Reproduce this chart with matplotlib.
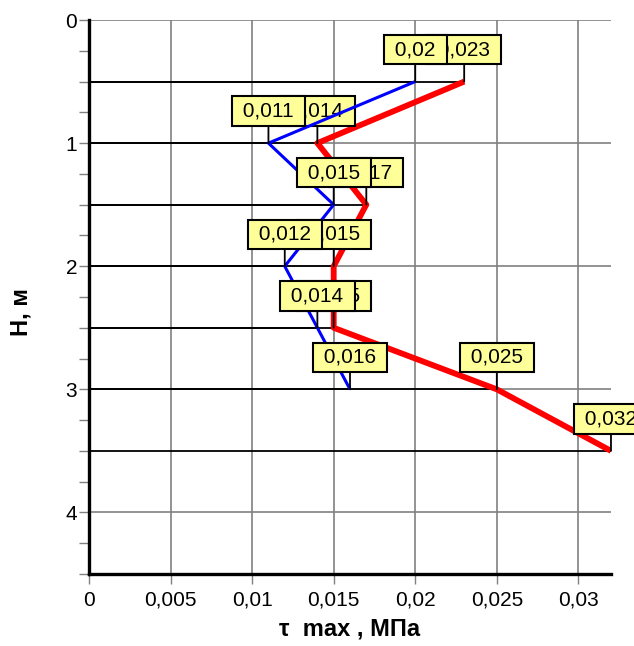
import matplotlib
matplotlib.use('Agg')
from matplotlib import pyplot as plt
from matplotlib.ticker import MultipleLocator, FuncFormatter

# Data.
depth_blue = [0.5, 1.0, 1.5, 2.0, 2.5, 3.0]
tau_blue = [0.02, 0.011, 0.015, 0.012, 0.014, 0.016]
depth_red = [0.5, 1.0, 1.5, 2.0, 2.5, 3.0, 3.5]
tau_red = [0.023, 0.014, 0.017, 0.015, 0.015, 0.025, 0.032]

x_ticks = [0, 0.005, 0.01, 0.015, 0.02, 0.025, 0.03]
y_ticks = [0, 1, 2, 3, 4]

plt.rcParams['font.family'] = ['Liberation Sans', 'DejaVu Sans']


def fmt(v):
    return ('%g' % v).replace('.', ',')


fig = plt.figure(dpi=100, figsize=(6.34, 6.46))
ax = fig.add_axes([0.1404, 0.1115, 0.8233, 0.8575])

ax.set_xlim(0, 0.032)
ax.set_ylim(4.5, 0)

# Grid and frame.
ax.set_xticks(x_ticks)
ax.set_yticks(y_ticks)
ax.yaxis.set_minor_locator(MultipleLocator(0.25))
ax.xaxis.set_major_formatter(FuncFormatter(lambda v, p: fmt(round(v, 4))))
ax.grid(True, color='#808080', lw=1.2, zorder=0)
ax.set_axisbelow(True)
for s in ['top', 'right']:
    ax.spines[s].set_visible(False)
for s in ['left', 'bottom']:
    ax.spines[s].set_linewidth(2.4)
    ax.spines[s].set_zorder(6)
ax.tick_params(axis='both', which='both', length=7, width=1, color='#808080',
               labelsize=15)
ax.tick_params(axis='x', pad=5)
ax.tick_params(axis='y', pad=1.5)


def draw_series(depths, vals, color, lw, z):
    # horizontal drop lines to the axis
    ax.hlines(depths, 0, vals, colors='black', lw=1.3, zorder=2)
    ax.plot(vals, depths, color=color, lw=lw, zorder=z, solid_capstyle='butt')
    for d, v in zip(depths, vals):
        ax.annotate(' ' + fmt(v) + ' ', xy=(v, d), xytext=(0, 23),
                    textcoords='offset points', ha='center', va='center',
                    fontsize=15, zorder=z + 1, annotation_clip=False,
                    bbox=dict(boxstyle='square,pad=0.25', fc='#ffff99',
                              ec='black', lw=1.5),
                    arrowprops=dict(arrowstyle='-', color='black', lw=1.3,
                                    shrinkA=0, shrinkB=0))


draw_series(depth_red, tau_red, '#ff0000', 4.2, 3)
draw_series(depth_blue, tau_blue, '#0000ff', 2.2, 5)

ax.set_xlabel('\u03c4  max , МПа', fontsize=17, fontweight='bold')
ax.set_ylabel('H, м', fontsize=17, fontweight='bold')
ax.xaxis.set_label_coords(0.5, -0.079)
ax.yaxis.set_label_coords(-0.109, 0.473)

fig.savefig('out.png', dpi=100)
